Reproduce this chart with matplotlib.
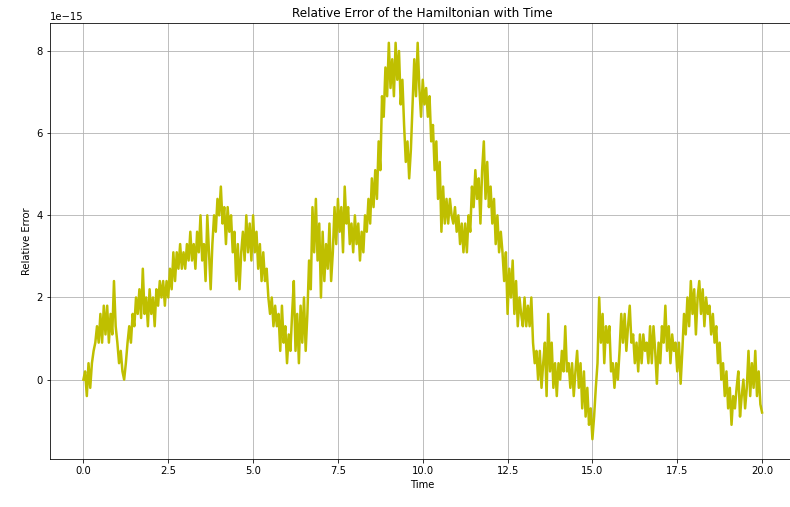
import numpy as np
from matplotlib import pyplot as plt

# relative error of the Hamiltonian, in units of 1e-15, sampled every 0.05 time units
time = np.arange(0, 401) * 0.05
err_0_5 = [
    0.0, 0.2, -0.4, 0.4, -0.2, 0.4, 0.7, 0.9, 1.3, 0.9, 1.6, 0.9, 1.8, 1.1, 1.8, 0.9, 1.6, 1.1, 2.4, 1.3,
    0.9, 0.4, 0.7, 0.2, 0.0, 0.4, 0.9, 1.3, 0.9, 1.6, 1.3, 2.0, 1.6, 2.2, 1.5, 2.7, 1.6, 2.0, 1.3, 2.2,
    1.6, 2.0, 1.3, 2.2, 1.8, 2.4, 2.0, 2.4, 1.8, 2.4, 2.0, 2.7, 2.2, 3.1, 2.4, 3.1, 2.7, 3.3, 2.7, 3.1,
    2.7, 3.3, 2.9, 3.6, 2.9, 3.3, 2.7, 3.6, 3.1, 4.0, 2.9, 3.3, 2.4, 4.0, 3.1, 2.2, 3.3, 4.0, 3.6, 4.4,
    4.0, 4.7, 3.8, 4.2, 3.3, 4.2, 3.6, 4.0, 3.1, 3.6, 2.4, 3.3, 2.2, 3.1, 3.6, 2.9, 4.0, 3.1, 3.8, 2.9,
]
err_5_10 = [
    4.0, 3.1, 3.6, 2.7, 3.3, 2.4, 3.1, 2.4, 2.7, 2.0, 1.6, 2.0, 1.3, 1.8, 1.3, 1.6, 0.7, 1.8, 0.9, 1.3,
    0.4, 1.1, 0.7, 1.6, 2.4, 0.7, 1.6, 0.4, 1.8, 0.9, 2.0, 0.7, 1.6, 2.9, 2.2, 4.2, 3.1, 4.4, 2.9, 3.8,
    2.0, 3.6, 2.4, 3.3, 2.7, 3.8, 2.4, 3.1, 4.2, 3.3, 4.4, 3.6, 4.2, 3.1, 4.7, 3.8, 4.2, 3.3, 3.8, 3.1,
    4.0, 3.3, 3.8, 2.9, 3.6, 3.1, 4.0, 3.6, 4.4, 3.8, 4.9, 4.2, 5.1, 4.4, 5.8, 5.1, 6.9, 6.4, 7.6, 6.9,
    8.2, 7.1, 7.8, 6.9, 8.2, 7.3, 8.0, 6.7, 7.3, 6.2, 5.3, 5.8, 4.9, 5.6, 6.7, 7.8, 6.9, 8.2, 7.1, 6.4,
]
err_10_15 = [
    7.3, 6.7, 7.1, 6.4, 6.9, 5.8, 6.2, 5.1, 5.8, 4.4, 5.3, 3.6, 4.7, 3.8, 4.4, 3.8, 4.4, 4.0, 3.8, 4.2,
    3.6, 4.0, 3.3, 3.8, 3.1, 3.8, 3.1, 4.0, 3.6, 4.7, 4.2, 5.1, 4.4, 4.9, 3.8, 5.1, 5.8, 4.4, 5.3, 4.2,
    4.7, 3.8, 4.4, 3.3, 4.0, 3.1, 3.6, 3.1, 2.4, 3.1, 1.6, 2.7, 2.0, 2.9, 1.6, 2.4, 1.3, 2.0, 1.6, 1.3,
    2.0, 1.3, 1.8, 1.3, 2.0, 0.9, 0.4, 0.7, 0.0, 0.7, -0.2, 0.4, 0.9, -0.4, 1.6, 0.2, 0.9, -0.2, 0.4, -0.4,
    0.4, 0.0, 0.7, 0.2, 1.3, 0.2, 0.4, -0.2, 0.4, -0.4, 0.2, 0.7, -0.2, 0.4, -0.7, 0.2, -0.9, -0.2, -1.1, -0.7,
]
err_15_20 = [
    -1.45, -0.9, -0.2, 0.4, 2.0, 0.9, 1.6, 0.4, 1.3, 0.9, 1.3, 0.2, 0.4, -0.2, 0.4, 0.0, 0.7, 1.6, 0.9, 1.6,
    0.7, 1.3, 1.8, 0.9, 1.1, 0.4, 0.9, 0.2, 1.1, 0.4, 1.1, 0.7, 0.9, 0.4, 1.3, 0.4, 1.3, 0.7, -0.1, 0.9,
    0.4, 1.3, 0.9, 1.8, 0.7, 1.3, 0.4, 1.1, 0.7, 0.9, 0.2, 0.9, -0.1, 0.7, 1.6, 1.1, 2.0, 1.3, 2.4, 1.6,
    2.2, 1.1, 2.0, 2.4, 1.6, 2.2, 1.3, 2.0, 1.6, 1.8, 1.1, 1.6, 0.9, 1.3, 0.4, 0.9, 0.0, 0.4, -0.4, 0.2,
    -0.7, -0.2, -1.1, -0.4, -0.7, -0.2, 0.2, -0.9, -0.4, 0.0, -0.7, -0.2, 0.7, -0.4, 0.4, -0.2, 0.7, -0.4, 0.2, -0.6,
    -0.8,
]
rel_error = np.array(err_0_5 + err_5_10 + err_10_15 + err_15_20) * 1e-15

fig = plt.figure(figsize=(790 / 72, 507 / 72), dpi=72)
# the right spine sits just past the picture's edge in the original
ax = fig.add_axes([49.5 / 790, 48 / 507, 746.5 / 790, 436 / 507])
ax.plot(time, rel_error, color="y", linewidth=2.5)
ax.set_title("Relative Error of the Hamiltonian with Time")
ax.set_xlabel("Time")
ax.set_ylabel("Relative Error")
ax.grid(True)
fig.savefig("out.png", dpi=72)
